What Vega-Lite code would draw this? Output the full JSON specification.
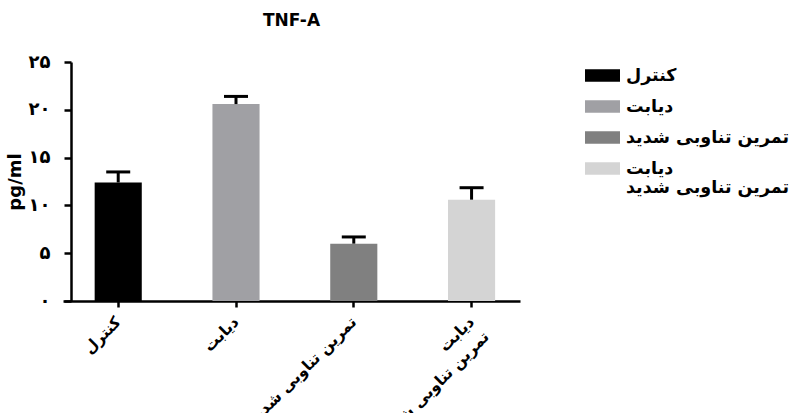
{
  "$schema": "https://vega.github.io/schema/vega-lite/v6.json",
  "autosize": "none",
  "width": 457,
  "height": 239,
  "padding": {"left": 63, "top": 62, "right": 269, "bottom": 112},
  "background": "white",
  "title": {"text": "TNF-A", "fontSize": 17, "fontWeight": "bold", "font": "DejaVu Sans", "anchor": "middle", "offset": 23, "color": "#000000"},
  "config": {"view": {"stroke": null}},
  "data": {"values": [
    {"group": "کنترل", "value": 12.4, "upper": 13.5},
    {"group": "دیابت", "value": 20.6, "upper": 21.4},
    {"group": "تمرین تناوبی شدید", "value": 6.0, "upper": 6.7},
    {"group": "دیابت|تمرین تناوبی شدید", "value": 10.6, "upper": 11.85}
  ]},
  "encoding": {
    "x": {
      "field": "group", "type": "nominal", "sort": null,
      "scale": {"paddingInner": 0.6, "paddingOuter": 0.24, "align": 0.56},
      "axis": {
        "title": null, "labelAngle": -45, "labelAlign": "right", "labelBaseline": "middle",
        "labelExpr": "split(datum.label, '|')",
        "labelFont": "DejaVu Sans", "labelFontWeight": "bold", "labelFontSize": 15.5, "labelColor": "#000000",
        "labelPadding": 12, "labelLimit": 300, "labelLineHeight": 21,
        "domainColor": "#000000", "domainWidth": 2.5, "tickColor": "#000000", "tickWidth": 2.5, "tickSize": 6
      }
    }
  },
  "layer": [
    {
      "mark": {"type": "bar"},
      "encoding": {
        "y": {
          "field": "value", "type": "quantitative", "title": "pg/ml",
          "scale": {"domain": [0, 25], "nice": false},
          "axis": {
            "values": [0, 5, 10, 15, 20, 25], "grid": false, "offset": -8,
            "labelExpr": "replace(replace(replace(replace(datum.label,'0','۰'),'1','۱'),'2','۲'),'5','۵')",
            "labelFont": "DejaVu Sans", "labelFontWeight": "bold", "labelFontSize": 18, "labelColor": "#000000",
            "labelPadding": 14,
            "domainColor": "#000000", "domainWidth": 2.5, "tickColor": "#000000", "tickWidth": 2.5, "tickSize": 7,
            "titleFont": "DejaVu Sans", "titleFontSize": 18, "titleFontWeight": "bold", "titleColor": "#000000", "titlePadding": 4
          }
        },
        "color": {
          "field": "group", "type": "nominal", "sort": null,
          "scale": {
            "domain": ["کنترل", "دیابت", "تمرین تناوبی شدید", "دیابت|تمرین تناوبی شدید"],
            "range": ["#000000", "#a0a0a4", "#808080", "#d4d4d4"]
          },
          "legend": {
            "orient": "none", "legendX": 522, "legendY": -4, "title": null, "padding": 0,
            "symbolType": "M-1,-0.36L1,-0.36L1,0.36L-1,0.36Z", "symbolSize": 1225, "symbolStrokeWidth": 0, "symbolOpacity": 1,
            "labelExpr": "split(datum.label, '|')",
            "labelFont": "DejaVu Sans", "labelFontWeight": "bold", "labelFontSize": 17.5, "labelColor": "#000000",
            "labelOffset": 6, "labelLimit": 300, "rowPadding": 5, "labelLineHeight": 22
          }
        }
      }
    },
    {
      "mark": {"type": "rule", "strokeWidth": 3, "color": "#000000"},
      "encoding": {
        "y": {"field": "value", "type": "quantitative", "title": "pg/ml"},
        "y2": {"field": "upper"}
      }
    },
    {
      "mark": {"type": "tick", "thickness": 3, "size": 24, "color": "#000000", "opacity": 1},
      "encoding": {
        "y": {"field": "upper", "type": "quantitative", "title": "pg/ml"}
      }
    }
  ]
}
